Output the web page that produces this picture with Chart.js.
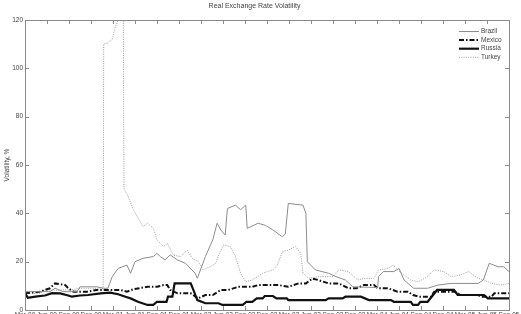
<!DOCTYPE html>
<html>
<head>
<meta charset="utf-8">
<script src="https://cdn.jsdelivr.net/npm/chart.js@4.4.1/dist/chart.umd.min.js"></script>
<style>
  html, body { margin: 0; padding: 0; background: #fff; overflow: hidden; }
  #wrap { width: 521px; height: 314px; overflow: hidden; }
</style>
</head>
<body>
<div id="wrap"><canvas id="volChart" width="521" height="318"></canvas></div>
<script>
// Real exchange rate volatility
// x = months since the first tick (one tick per quarter), y = volatility in %

const tickLabels = ["Mar-00", "Jun-00", "Sep-00", "Dec-00", "Mar-01", "Jun-01", "Sep-01", "Dec-01",
    "Mar-02", "Jun-02", "Sep-02", "Dec-02", "Mar-03", "Jun-03", "Sep-03", "Dec-03",
    "Mar-04", "Jun-04", "Sep-04", "Dec-04", "Mar-05", "Jun-05", "Sep-05"];

const seriesNames = ["Brazil", "Mexico", "Russia", "Turkey"];

const brazilMonth = [0, 2.1, 3.4, 4.1, 5.2, 7.1, 7.5, 9.8, 10.7, 11.3,
    11.9, 12.7, 13.9, 14.4, 15.0, 16.1, 17.5, 18.0, 18.5, 19.1,
    19.8, 20.8, 21.9, 23.2, 23.5, 24.6, 25.6, 26.2, 26.7, 27.3,
    27.6, 28.7, 29.4, 30.1, 30.3, 31.8, 32.8, 33.8, 35.1, 35.5,
    35.9, 37.9, 38.3, 38.5, 39.6, 41.4, 42.4, 43.7, 44.7, 48.1,
    48.2, 48.9, 50.3, 51.0, 51.7, 53.0, 54.9, 56.3, 58.1, 61.8,
    62.5, 63.3, 64.5, 65.3, 66.0];
const brazilVol = [7.6, 7.6, 7.6, 9, 7.6, 7.6, 9.6, 9.6, 9, 9,
    13.8, 17.2, 18.6, 15.2, 20, 21.4, 22.1, 23.4, 22, 20.7,
    22.8, 20.7, 19.3, 15.2, 13.1, 22.1, 29, 35.9, 33.1, 31,
    42, 43.4, 41.5, 43.4, 33.8, 35.9, 35, 33.1, 30.3, 31.5,
    44.1, 43.4, 40, 20, 16.6, 15.2, 13.8, 12.4, 9.6, 9.3,
    13.8, 15.9, 15.9, 17.2, 12.4, 9, 9, 10.3, 11, 11,
    12.4, 19.3, 17.9, 17.9, 15.9];

const mexicoMonth = [0, 2.1, 2.7, 3.4, 4.1, 5.5, 5.9, 6.6, 8.5, 9.8,
    13.0, 13.9, 14.8, 16.7, 18.0, 18.9, 19.4, 19.8, 20.8, 22.6,
    23.6, 24.6, 25.6, 26.7, 27.7, 29.1, 31.0, 31.8, 34.6, 35.9,
    37.3, 38.3, 39.2, 40.0, 41.4, 42.8, 44.1, 45.2, 46.2, 47.6,
    48.1, 49.5, 50.8, 52.2, 52.9, 53.7, 55.4, 55.8, 58.5, 59.5,
    61.8, 62.2, 63.6, 64.0, 66.0];
const mexicoVol = [6.9, 7.6, 8.3, 9, 11, 10.3, 9, 7.6, 7.6, 8.3,
    8.3, 7.6, 8.6, 9.6, 9.6, 10.3, 10.3, 8.3, 6.9, 6.9,
    4.8, 6.2, 6.2, 8.3, 8.3, 9.6, 9.6, 10.3, 10.3, 9.6,
    11, 11, 13, 12.4, 11, 11, 9, 9, 10.3, 10.3,
    9, 9, 7.6, 7.6, 6.2, 5.5, 5.5, 7.6, 7.6, 6.2,
    6.2, 5.5, 5.5, 6.9, 6.9];

const russiaMonth = [0, 0.4, 1.4, 2.7, 3.7, 4.8, 5.9, 6.4, 7.5, 8.6,
    10.3, 11.6, 12.7, 13.7, 14.4, 15.4, 16.7, 17.5, 18.0, 19.3,
    19.5, 20.1, 20.4, 22.6, 23.0, 23.5, 24.6, 26.4, 26.9, 29.7,
    30.2, 31.0, 31.6, 32.4, 32.7, 33.8, 34.3, 35.7, 35.9, 41.0,
    41.4, 43.3, 43.7, 45.8, 46.9, 49.9, 50.3, 52.6, 52.9, 53.6,
    53.9, 54.9, 56.2, 58.5, 59.0, 62.6, 63.1, 66.0];
const russiaVol = [7, 5, 5.5, 6, 7, 6.9, 6, 5.5, 6, 6.2,
    6.9, 7.2, 6.5, 5.5, 4.8, 3.4, 2.1, 2.1, 3.4, 3.4,
    5.5, 5.5, 11, 11, 8, 4.1, 2.8, 2.8, 2.1, 2.1,
    3.4, 3.4, 4.8, 4.8, 5.8, 5.8, 4.8, 4.8, 4.1, 4.1,
    4.8, 4.8, 5.5, 5.5, 4.1, 4.1, 3.4, 3.4, 2.1, 2.1,
    3.4, 3.4, 8.3, 8.3, 6.2, 6.2, 4.8, 4.8];

const turkeyMonth = [0, 2.1, 2.7, 6.2, 7.5, 10.66, 10.73, 11.3, 11.9, 12.3,
    12.7, 13.0, 13.4, 13.5, 13.9, 14.8, 15.3, 16.1, 16.7, 17.5,
    18.0, 18.9, 19.4, 20.2, 21.2, 22.1, 22.8, 23.6, 24.3, 25.3,
    26.0, 26.4, 27.1, 28.0, 28.7, 29.4, 30.1, 31.0, 32.4, 33.8,
    34.4, 35.1, 35.9, 36.9, 37.6, 37.9, 38.7, 40.0, 42.0, 42.8,
    44.1, 45.4, 46.2, 47.6, 48.2, 49.5, 50.2, 50.8, 51.7, 52.6,
    53.6, 54.9, 55.8, 57.1, 58.1, 59.4, 60.5, 61.8, 62.6, 63.6,
    64.9, 66.0];
const turkeyVol = [6.9, 6.9, 8.3, 8.3, 9, 9, 110, 110.5, 112, 117,
    120, 125, 125, 50, 48, 41.4, 38.6, 34.5, 35.9, 33.8,
    29, 26.2, 27.6, 22.8, 22, 24.8, 21.4, 20, 16.6, 18,
    19.3, 22.8, 26.9, 26.2, 22.1, 15.2, 11.7, 12.4, 15.2, 16.6,
    18.6, 24.1, 24.8, 26.2, 23.4, 15.2, 13.1, 13.8, 13.8, 16.6,
    15.9, 12.4, 13.1, 13.1, 16.6, 17.2, 18.6, 16.6, 14.5, 12.4,
    11.7, 13.8, 16.6, 15.9, 13.8, 14.5, 15.9, 13.1, 12.4, 11,
    10.3, 11];

const FONT = "'Liberation Sans', Arial, sans-serif";
const TEXT_COLOR = "#444";
const AXIS_COLOR = "#8a8a8a";

function zip(xs, ys) {
    return xs.map((x, i) => ({ x: x, y: ys[i] }));
}

const datasets = [
    { label: seriesNames[0], data: zip(brazilMonth, brazilVol),
      borderColor: "#8c8c8c", borderWidth: 1, borderDash: [] },
    { label: seriesNames[1], data: zip(mexicoMonth, mexicoVol),
      borderColor: "#111", borderWidth: 2, borderDash: [5, 2, 1.5, 2] },
    { label: seriesNames[2], data: zip(russiaMonth, russiaVol),
      borderColor: "#111", borderWidth: 2.2, borderDash: [] },
    { label: seriesNames[3], data: zip(turkeyMonth, turkeyVol),
      borderColor: "#9a9a9a", borderWidth: 1, borderDash: [1, 1.3] }
].map(d => Object.assign(d, { pointRadius: 0, tension: 0, fill: false }));

// box + inward ticks on all four sides, MATLAB style
const boxPlugin = {
    id: "matlabBox",
    afterDatasetsDraw(chart) {
        const { ctx, chartArea: a, scales } = chart;
        ctx.save();
        ctx.strokeStyle = AXIS_COLOR;
        ctx.lineWidth = 1;
        ctx.strokeRect(a.left + 0.5, a.top + 0.5, a.right - a.left, a.bottom - a.top);
        const len = 4;
        ctx.beginPath();
        scales.x.ticks.forEach(t => {
            const px = Math.round(scales.x.getPixelForValue(t.value)) + 0.5;
            ctx.moveTo(px, a.top); ctx.lineTo(px, a.top + len);
            ctx.moveTo(px, a.bottom); ctx.lineTo(px, a.bottom - len);
        });
        scales.y.ticks.forEach(t => {
            const py = Math.round(scales.y.getPixelForValue(t.value)) + 0.5;
            ctx.moveTo(a.left, py); ctx.lineTo(a.left + len, py);
            ctx.moveTo(a.right, py); ctx.lineTo(a.right - len, py);
        });
        ctx.stroke();
        ctx.restore();
    }
};

// legend inside the top-right corner
const legendPlugin = {
    id: "cornerLegend",
    afterDraw(chart) {
        const { ctx, chartArea: a } = chart;
        ctx.save();
        ctx.font = "6.5px " + FONT;
        ctx.textBaseline = "middle";
        chart.data.datasets.forEach((ds, i) => {
            const y = a.top + 11.5 + i * 8.6;
            ctx.strokeStyle = ds.borderColor;
            ctx.lineWidth = ds.borderWidth;
            ctx.setLineDash(ds.borderDash || []);
            ctx.beginPath();
            ctx.moveTo(a.right - 50, y);
            ctx.lineTo(a.right - 30, y);
            ctx.stroke();
            ctx.fillStyle = TEXT_COLOR;
            ctx.fillText(ds.label, a.right - 28, y);
        });
        ctx.restore();
    }
};

new Chart(document.getElementById("volChart"), {
    type: "line",
    data: { datasets: datasets },
    options: {
        responsive: false,
        animation: false,
        events: [],
        layout: { padding: { left: 0, right: 12, top: 0, bottom: 0 } },
        plugins: {
            legend: { display: false },
            tooltip: { enabled: false },
            title: {
                display: true,
                text: "Real Exchange Rate Volatility",
                color: TEXT_COLOR,
                font: { family: FONT, size: 7, weight: "normal" },
                padding: { top: 2, bottom: 9.6 }
            }
        },
        scales: {
            x: {
                type: "linear",
                min: 0,
                max: 66,
                grid: { display: false, drawTicks: false },
                border: { display: false },
                afterFit: s => { s.height = 8; },
                ticks: {
                    stepSize: 3,
                    autoSkip: false,
                    maxRotation: 0,
                    padding: 1,
                    color: TEXT_COLOR,
                    font: { family: FONT, size: 6.5 },
                    callback: v => tickLabels[Math.round(v / 3)]
                }
            },
            y: {
                min: 0,
                max: 120,
                grid: { display: false, drawTicks: false },
                border: { display: false },
                afterFit: s => { s.width = 25; },
                title: {
                    display: true,
                    text: "Volatility, %",
                    color: TEXT_COLOR,
                    font: { family: FONT, size: 6.5 },
                    padding: { top: 3, bottom: 0 }
                },
                ticks: {
                    stepSize: 20,
                    padding: 2,
                    color: TEXT_COLOR,
                    font: { family: FONT, size: 6.5 }
                }
            }
        }
    },
    plugins: [boxPlugin, legendPlugin]
});
</script>
</body>
</html>
